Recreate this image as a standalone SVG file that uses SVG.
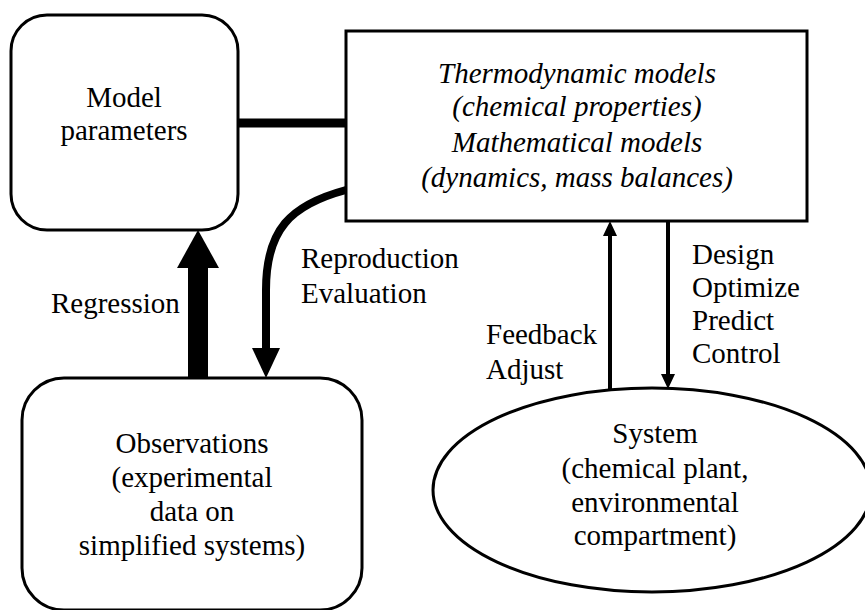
<svg xmlns="http://www.w3.org/2000/svg" width="865" height="610" viewBox="0 0 865 610">
<style>
  .box { fill: #fff; stroke: #000; stroke-width: 3; }
  .t { font-size: 29px; fill: #000; }
  .c { text-anchor: middle; }
  .i { font-style: italic; }
  .ln { fill: none; stroke: #000; }
</style>
<rect width="865" height="610" fill="#fff"/>
<g id="connectors">
  <line class="ln" x1="238" y1="123" x2="346" y2="123" stroke-width="9"/>
  <path class="ln" d="M346,190 C290,205 266,230 266,290 L266,350" stroke-width="8"/>
  <polygon points="252,348 280,348 266,378" fill="#000"/>
  <rect x="188" y="266" width="20" height="114" fill="#000"/>
  <polygon points="177,268 219,268 198,230" fill="#000"/>
  <line class="ln" x1="610" y1="389" x2="610" y2="234" stroke-width="4"/>
  <polygon points="603,236 617,236 610,221" fill="#000"/>
  <line class="ln" x1="668" y1="221" x2="668" y2="376" stroke-width="4"/>
  <polygon points="661,374 675,374 668,389" fill="#000"/>
</g>
<g font-family="Liberation Serif, DejaVu Serif, Times New Roman, serif">
<g id="model-parameters">
  <rect class="box" x="11" y="15" width="227" height="215" rx="36"/>
  <text class="t c" x="124" y="107">Model</text>
  <text class="t c" x="124" y="140">parameters</text>
</g>
<g id="models">
  <rect class="box" x="346" y="31" width="461" height="190"/>
  <text class="t c i" x="577" y="83">Thermodynamic models</text>
  <text class="t c i" x="577" y="116">(chemical properties)</text>
  <text class="t c i" x="577" y="152">Mathematical models</text>
  <text class="t c i" x="577" y="187">(dynamics, mass balances)</text>
</g>
<g id="observations">
  <rect class="box" x="22" y="378" width="340" height="232" rx="42"/>
  <text class="t c" x="192" y="453">Observations</text>
  <text class="t c" x="192" y="487">(experimental</text>
  <text class="t c" x="192" y="521">data on</text>
  <text class="t c" x="192" y="555">simplified systems)</text>
</g>
<g id="system">
  <ellipse class="box" cx="652" cy="490" rx="219" ry="102"/>
  <text class="t c" x="655" y="443">System</text>
  <text class="t c" x="655" y="478">(chemical plant,</text>
  <text class="t c" x="655" y="512">environmental</text>
  <text class="t c" x="655" y="545">compartment)</text>
</g>
<g id="labels">
  <text class="t" x="301" y="268">Reproduction</text>
  <text class="t" x="301" y="303">Evaluation</text>
  <text class="t" x="51" y="313">Regression</text>
  <text class="t" x="486" y="344">Feedback</text>
  <text class="t" x="486" y="379">Adjust</text>
  <text class="t" x="692" y="264">Design</text>
  <text class="t" x="692" y="297">Optimize</text>
  <text class="t" x="692" y="330">Predict</text>
  <text class="t" x="692" y="363">Control</text>
</g>
</g>
</svg>
